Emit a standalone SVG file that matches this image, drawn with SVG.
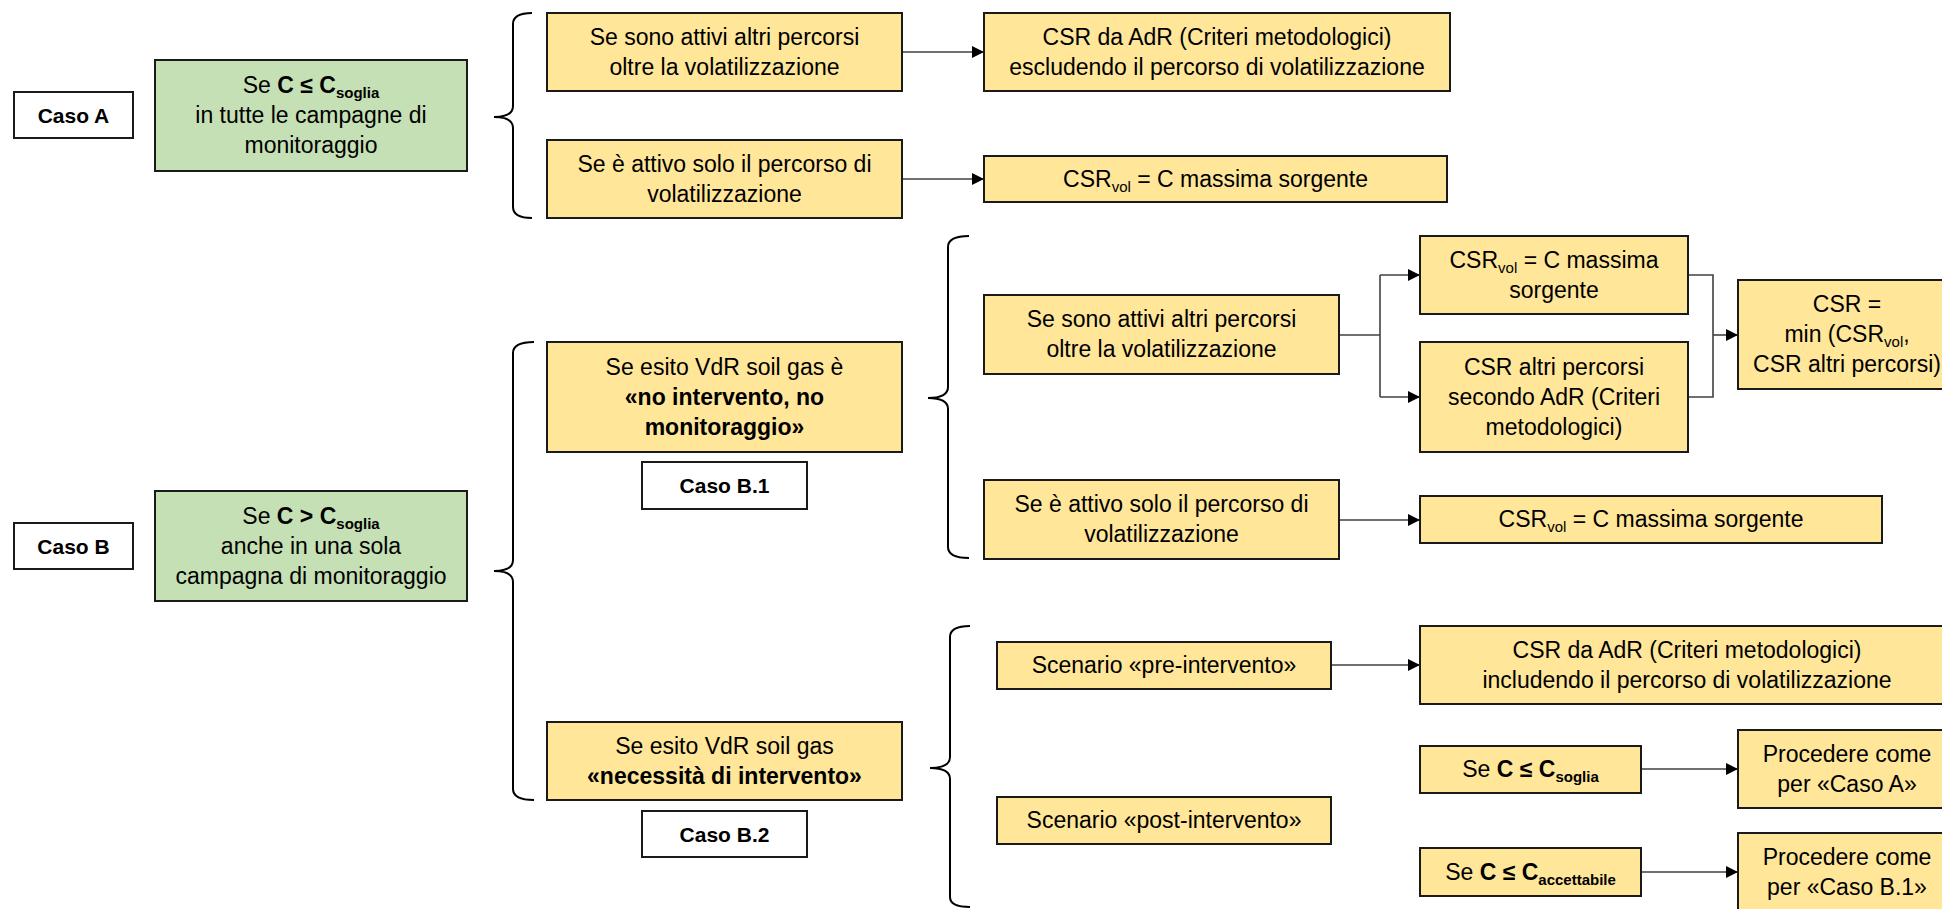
<svg xmlns="http://www.w3.org/2000/svg" width="1942" height="909" viewBox="0 0 1942 909">
<defs>
<style>
.y{fill:#FFE699;stroke:#1a1a1a;stroke-width:2}
.g{fill:#C5E0B4;stroke:#1a1a1a;stroke-width:2}
.w{fill:#FFFFFF;stroke:#1a1a1a;stroke-width:2}
text{font-family:"Liberation Sans",Arial,sans-serif;font-size:23px;fill:#000;text-anchor:middle}
.b{font-weight:bold}
.cb{font-weight:bold;font-size:21px}
.s{font-size:15px}
.c{fill:none;stroke:#404040;stroke-width:1.6}
.br{fill:none;stroke:#000;stroke-width:2}
</style>
<marker id="ah" viewBox="0 0 12 12" refX="12" refY="6" markerWidth="12" markerHeight="12" markerUnits="userSpaceOnUse" orient="auto">
<path d="M0,0 L12,6 L0,12 z" fill="#000"/>
</marker>
</defs>
<rect width="1942" height="909" fill="#fff"/>

<g id="connectors">
<path class="c" d="M902,52 H984" marker-end="url(#ah)"/>
<path class="c" d="M902,179 H984" marker-end="url(#ah)"/>
<path class="c" d="M1339,335 H1380"/>
<path class="c" d="M1380,275 V397"/>
<path class="c" d="M1380,275 H1420" marker-end="url(#ah)"/>
<path class="c" d="M1380,397 H1420" marker-end="url(#ah)"/>
<path class="c" d="M1688,275 H1713 V397 H1688"/>
<path class="c" d="M1713,335 H1738" marker-end="url(#ah)"/>
<path class="c" d="M1339,520 H1420" marker-end="url(#ah)"/>
<path class="c" d="M1331,665 H1420" marker-end="url(#ah)"/>
<path class="c" d="M1641,769 H1738" marker-end="url(#ah)"/>
<path class="c" d="M1641,872 H1738" marker-end="url(#ah)"/>
<path class="br" d="M532,13 Q513,13 513,24 L513,106 Q513,117 494,117 Q513,117 513,128 L513,207 Q513,218 532,218"/>
<path class="br" d="M534,342 Q513,342 513,353 L513,560 Q513,571 494,571 Q513,571 513,582 L513,789 Q513,800 534,800"/>
<path class="br" d="M969,236 Q948,236 948,247 L948,387 Q948,398 928,398 Q948,398 948,409 L948,547 Q948,558 969,558"/>
<path class="br" d="M970,626 Q950,626 950,637 L950,757 Q950,768 930,768 Q950,768 950,779 L950,897 Q950,907 970,907"/>
</g>

<g id="casoA">
<rect class="w" x="14" y="92" width="119" height="46"/>
<text class="cb" x="73.5" y="123">Caso A</text>
</g>
<g id="condA">
<rect class="g" x="155" y="60" width="312" height="111"/>
<text x="311" y="93">Se <tspan class="b">C ≤ C</tspan><tspan class="b s" dy="5">soglia</tspan></text>
<text x="311" y="123">in tutte le campagne di</text>
<text x="311" y="153">monitoraggio</text>
</g>
<g id="a1">
<rect class="y" x="547" y="13" width="355" height="78"/>
<text x="724.5" y="45">Se sono attivi altri percorsi</text>
<text x="724.5" y="75">oltre la volatilizzazione</text>
</g>
<g id="a2">
<rect class="y" x="547" y="140" width="355" height="78"/>
<text x="724.5" y="172">Se è attivo solo il percorso di</text>
<text x="724.5" y="202">volatilizzazione</text>
</g>
<g id="a1r">
<rect class="y" x="984" y="13" width="466" height="78"/>
<text x="1217" y="45">CSR da AdR (Criteri metodologici)</text>
<text x="1217" y="75">escludendo il percorso di volatilizzazione</text>
</g>
<g id="a2r">
<rect class="y" x="984" y="156" width="463" height="46"/>
<text x="1215.5" y="187">CSR<tspan class="s" dy="5">vol</tspan><tspan dy="-5"> = C massima sorgente</tspan></text>
</g>

<g id="casoB">
<rect class="w" x="14" y="523" width="119" height="46"/>
<text class="cb" x="73.5" y="554">Caso B</text>
</g>
<g id="condB">
<rect class="g" x="155" y="491" width="312" height="110"/>
<text x="311" y="524">Se <tspan class="b">C &gt; C</tspan><tspan class="b s" dy="5">soglia</tspan></text>
<text x="311" y="554">anche in una sola</text>
<text x="311" y="584">campagna di monitoraggio</text>
</g>
<g id="b1">
<rect class="y" x="547" y="342" width="355" height="110"/>
<text x="724.5" y="375">Se esito VdR soil gas è</text>
<text class="b" x="724.5" y="405">«no intervento, no</text>
<text class="b" x="724.5" y="435">monitoraggio»</text>
</g>
<g id="casoB1">
<rect class="w" x="642" y="462" width="165" height="47"/>
<text class="cb" x="724.5" y="493">Caso B.1</text>
</g>
<g id="b2">
<rect class="y" x="547" y="722" width="355" height="78"/>
<text x="724.5" y="754">Se esito VdR soil gas</text>
<text class="b" x="724.5" y="784">«necessità di intervento»</text>
</g>
<g id="casoB2">
<rect class="w" x="642" y="811" width="165" height="46"/>
<text class="cb" x="724.5" y="842">Caso B.2</text>
</g>

<g id="b1a">
<rect class="y" x="984" y="295" width="355" height="79"/>
<text x="1161.5" y="327">Se sono attivi altri percorsi</text>
<text x="1161.5" y="357">oltre la volatilizzazione</text>
</g>
<g id="b1a1">
<rect class="y" x="1420" y="236" width="268" height="78"/>
<text x="1554" y="268">CSR<tspan class="s" dy="5">vol</tspan><tspan dy="-5"> = C massima</tspan></text>
<text x="1554" y="298">sorgente</text>
</g>
<g id="b1a2">
<rect class="y" x="1420" y="342" width="268" height="110"/>
<text x="1554" y="375">CSR altri percorsi</text>
<text x="1554" y="405">secondo AdR (Criteri</text>
<text x="1554" y="435">metodologici)</text>
</g>
<g id="b1min">
<rect class="y" x="1738" y="280" width="218" height="109"/>
<text x="1847" y="312">CSR =</text>
<text x="1847" y="342">min (CSR<tspan class="s" dy="5">vol</tspan><tspan dy="-5">,</tspan></text>
<text x="1847" y="372">CSR altri percorsi)</text>
</g>
<g id="b1b">
<rect class="y" x="984" y="480" width="355" height="79"/>
<text x="1161.5" y="512">Se è attivo solo il percorso di</text>
<text x="1161.5" y="542">volatilizzazione</text>
</g>
<g id="b1b1">
<rect class="y" x="1420" y="496" width="462" height="47"/>
<text x="1651" y="527">CSR<tspan class="s" dy="5">vol</tspan><tspan dy="-5"> = C massima sorgente</tspan></text>
</g>

<g id="pre">
<rect class="y" x="997" y="642" width="334" height="47"/>
<text x="1164" y="673">Scenario «pre-intervento»</text>
</g>
<g id="preR">
<rect class="y" x="1420" y="626" width="536" height="78"/>
<text x="1687" y="658">CSR da AdR (Criteri metodologici)</text>
<text x="1687" y="688">includendo il percorso di volatilizzazione</text>
</g>
<g id="post">
<rect class="y" x="997" y="797" width="334" height="47"/>
<text x="1164" y="828">Scenario «post-intervento»</text>
</g>
<g id="soglia">
<rect class="y" x="1420" y="746" width="221" height="47"/>
<text x="1530.5" y="777">Se <tspan class="b">C ≤ C</tspan><tspan class="b s" dy="5">soglia</tspan></text>
</g>
<g id="procA">
<rect class="y" x="1738" y="730" width="218" height="78"/>
<text x="1847" y="762">Procedere come</text>
<text x="1847" y="792">per «Caso A»</text>
</g>
<g id="acc">
<rect class="y" x="1420" y="848" width="221" height="48"/>
<text x="1530.5" y="880">Se <tspan class="b">C ≤ C</tspan><tspan class="b s" dy="5">accettabile</tspan></text>
</g>
<g id="procB1">
<rect class="y" x="1738" y="833" width="218" height="80"/>
<text x="1847" y="865">Procedere come</text>
<text x="1847" y="895">per «Caso B.1»</text>
</g>
</svg>
